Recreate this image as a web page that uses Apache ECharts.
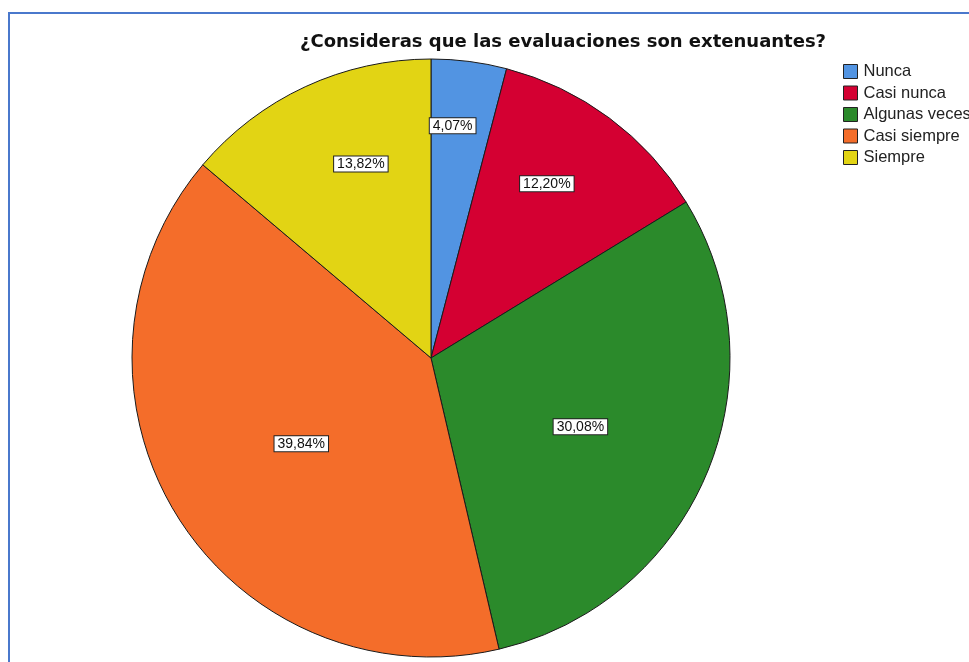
<!DOCTYPE html>
<html>
<head>
<meta charset="utf-8">
<script src="https://cdn.jsdelivr.net/npm/echarts@6/dist/echarts.min.js"></script>
<style>
  html, body { margin: 0; padding: 0; background: #ffffff; overflow: hidden; }
  #frame { position: absolute; left: 8px; top: 12px; width: 1000px; height: 700px; border: 2px solid #4a78cc; box-sizing: border-box; }
  #chart { position: absolute; left: 0; top: 0; width: 969px; height: 662px; }
</style>
</head>
<body>
<div id="frame"></div>
<div id="chart"></div>
<script>
const titleText = '¿Consideras que las evaluaciones son extenuantes?';
const categories = ['Nunca', 'Casi nunca', 'Algunas veces', 'Casi siempre', 'Siempre'];
const values = [4.07, 12.20, 30.08, 39.84, 13.82];

const colors = ['#5294e2', '#d40032', '#2b8a2b', '#f46d2a', '#e2d414'];
const pieCenter = [431, 358];
const pieRadius = 299;
// label placement: radial fraction of the radius and angular shift (degrees) from the slice middle
const labelRadiusFrac = [0.78, 0.70, 0.55, 0.52, 0.69];
const labelAngleShift = [-2, -3, 2, -2, 5];

const total = values.reduce(function (a, b) { return a + b; }, 0);
const midAngles = [];
(function () {
  let acc = 0;
  values.forEach(function (v) {
    midAngles.push((acc + v / 2) / total * 2 * Math.PI);
    acc += v;
  });
})();

const chart = echarts.init(document.getElementById('chart'), null, { renderer: 'canvas' });

const option = {
  animation: false,
  color: colors,
  title: {
    text: titleText,
    left: 300,
    top: 33,
    padding: 0,
    textStyle: { fontFamily: 'DejaVu Sans, sans-serif', fontSize: 18, fontWeight: 'bold', color: '#111' }
  },
  legend: {
    orient: 'vertical',
    left: 843,
    top: 63,
    padding: 0,
    itemWidth: 14,
    itemHeight: 14,
    itemGap: 4.5,
    icon: 'rect',
    textStyle: { fontFamily: 'Liberation Sans, Arial, sans-serif', fontSize: 16.5, lineHeight: 16, color: '#222', padding: [0, 0, 0, 1] },
    itemStyle: { borderColor: '#222', borderWidth: 1 },
    data: categories
  },
  series: [{
    type: 'pie',
    center: pieCenter,
    radius: [0, pieRadius],
    startAngle: 90,
    clockwise: true,
    silent: true,
    itemStyle: { borderColor: '#1a1a1a', borderWidth: 1 },
    label: {
      show: true,
      position: 'inside',
      formatter: function (p) { return p.value.toFixed(2).replace('.', ',') + '%'; },
      fontFamily: 'Liberation Sans, Arial, sans-serif',
      fontSize: 14,
      color: '#111',
      backgroundColor: '#ffffff',
      borderColor: '#222',
      borderWidth: 1,
      padding: [1, 3, 0, 3]
    },
    labelLine: { show: false },
    labelLayout: function (params) {
      const i = params.dataIndex;
      const rr = labelRadiusFrac[i] * pieRadius;
      const a = midAngles[i] + labelAngleShift[i] * Math.PI / 180;
      return {
        x: pieCenter[0] + rr * Math.sin(a),
        y: pieCenter[1] - rr * Math.cos(a),
        align: 'center',
        verticalAlign: 'middle'
      };
    },
    data: categories.map(function (c, i) { return { name: c, value: values[i] }; })
  }]
};

chart.setOption(option);
</script>
</body>
</html>
